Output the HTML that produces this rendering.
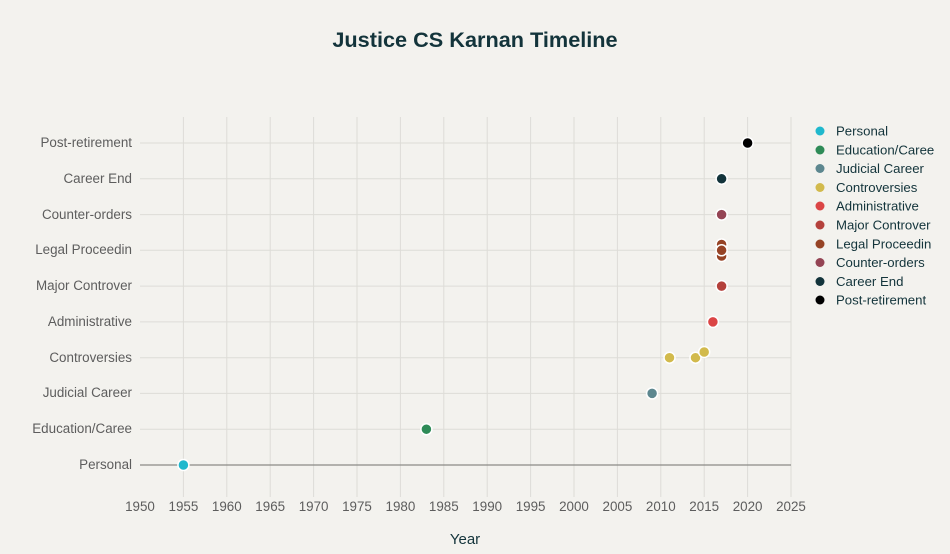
<!DOCTYPE html>
<html><head><meta charset="utf-8"><style>
body{margin:0;background:#f3f2ee;}
svg{display:block;font-family:"Liberation Sans",sans-serif;}
</style></head><body>
<svg width="950" height="554" viewBox="0 0 950 554">
<rect width="950" height="554" fill="#f3f2ee"/>
<text x="475" y="47" text-anchor="middle" font-size="21.7" font-weight="bold" fill="#13343b">Justice CS Karnan Timeline</text>
<g stroke="#dddcd7" stroke-width="1">
<line x1="183.4" y1="117" x2="183.4" y2="497"/><line x1="226.8" y1="117" x2="226.8" y2="497"/>
<line x1="270.2" y1="117" x2="270.2" y2="497"/><line x1="313.6" y1="117" x2="313.6" y2="497"/>
<line x1="357" y1="117" x2="357" y2="497"/><line x1="400.4" y1="117" x2="400.4" y2="497"/>
<line x1="443.8" y1="117" x2="443.8" y2="497"/><line x1="487.2" y1="117" x2="487.2" y2="497"/>
<line x1="530.6" y1="117" x2="530.6" y2="497"/><line x1="574" y1="117" x2="574" y2="497"/>
<line x1="617.4" y1="117" x2="617.4" y2="497"/><line x1="660.8" y1="117" x2="660.8" y2="497"/>
<line x1="704.2" y1="117" x2="704.2" y2="497"/><line x1="747.6" y1="117" x2="747.6" y2="497"/>
<line x1="791" y1="117" x2="791" y2="497"/>
<line x1="140" y1="143" x2="791" y2="143"/><line x1="140" y1="178.8" x2="791" y2="178.8"/>
<line x1="140" y1="214.6" x2="791" y2="214.6"/><line x1="140" y1="250.3" x2="791" y2="250.3"/>
<line x1="140" y1="286.1" x2="791" y2="286.1"/><line x1="140" y1="321.9" x2="791" y2="321.9"/>
<line x1="140" y1="357.7" x2="791" y2="357.7"/><line x1="140" y1="393.4" x2="791" y2="393.4"/>
<line x1="140" y1="429.2" x2="791" y2="429.2"/>
</g>
<line x1="140" y1="465" x2="791" y2="465" stroke="#8a8a86" stroke-width="1.3"/>
<g font-size="13.4" fill="#5d5d5d" text-anchor="end">
<text x="132" y="147">Post-retirement</text><text x="132" y="183">Career End</text>
<text x="132" y="219">Counter-orders</text><text x="132" y="254">Legal Proceedin</text>
<text x="132" y="290">Major Controver</text><text x="132" y="326">Administrative</text>
<text x="132" y="362">Controversies</text><text x="132" y="397">Judicial Career</text>
<text x="132" y="433">Education/Caree</text><text x="132" y="469">Personal</text>
</g>
<g font-size="13.4" fill="#5d5d5d" text-anchor="middle">
<text x="140" y="511">1950</text><text x="183.4" y="511">1955</text><text x="226.8" y="511">1960</text>
<text x="270.2" y="511">1965</text><text x="313.6" y="511">1970</text><text x="357" y="511">1975</text>
<text x="400.4" y="511">1980</text><text x="443.8" y="511">1985</text><text x="487.2" y="511">1990</text>
<text x="530.6" y="511">1995</text><text x="574" y="511">2000</text><text x="617.4" y="511">2005</text>
<text x="660.8" y="511">2010</text><text x="704.2" y="511">2015</text><text x="747.6" y="511">2020</text>
<text x="791" y="511">2025</text>
</g>
<text x="465" y="544" text-anchor="middle" font-size="15" fill="#13343b">Year</text>
<g stroke="#fff" stroke-width="1.5">
<circle cx="183.4" cy="465" r="5.5" fill="#1fb8cd"/>
<circle cx="426.4" cy="429.2" r="5.5" fill="#2e8b57"/>
<circle cx="652.1" cy="393.4" r="5.5" fill="#5d878f"/>
<circle cx="669.5" cy="357.7" r="5.5" fill="#d2ba4c"/>
<circle cx="695.5" cy="357.7" r="5.5" fill="#d2ba4c"/>
<circle cx="704.2" cy="352" r="5.5" fill="#d2ba4c"/>
<circle cx="712.9" cy="321.9" r="5.5" fill="#db4545"/>
<circle cx="721.6" cy="286.1" r="5.5" fill="#b4413c"/>
<circle cx="721.6" cy="244.5" r="5.5" fill="#964325"/>
<circle cx="721.6" cy="256" r="5.5" fill="#964325"/>
<circle cx="721.6" cy="250.3" r="5.5" fill="#964325"/>
<circle cx="721.6" cy="214.6" r="5.5" fill="#944454"/>
<circle cx="721.6" cy="178.8" r="5.5" fill="#13343b"/>
<circle cx="747.6" cy="143" r="5.5" fill="#000"/>
</g>
<g font-size="13.2" fill="#13343b">
<circle cx="820" cy="131" r="4.5" fill="#1fb8cd"/><text x="836" y="135.5">Personal</text>
<circle cx="820" cy="150" r="4.5" fill="#2e8b57"/><text x="836" y="154.5">Education/Caree</text>
<circle cx="820" cy="168.5" r="4.5" fill="#5d878f"/><text x="836" y="173">Judicial Career</text>
<circle cx="820" cy="187.5" r="4.5" fill="#d2ba4c"/><text x="836" y="192">Controversies</text>
<circle cx="820" cy="206" r="4.5" fill="#db4545"/><text x="836" y="210.5">Administrative</text>
<circle cx="820" cy="225" r="4.5" fill="#b4413c"/><text x="836" y="229.5">Major Controver</text>
<circle cx="820" cy="244" r="4.5" fill="#964325"/><text x="836" y="248.5">Legal Proceedin</text>
<circle cx="820" cy="262.5" r="4.5" fill="#944454"/><text x="836" y="267">Counter-orders</text>
<circle cx="820" cy="281.5" r="4.5" fill="#13343b"/><text x="836" y="286">Career End</text>
<circle cx="820" cy="300" r="4.5" fill="#000"/><text x="836" y="304.5">Post-retirement</text>
</g>
</svg>
</body></html>
